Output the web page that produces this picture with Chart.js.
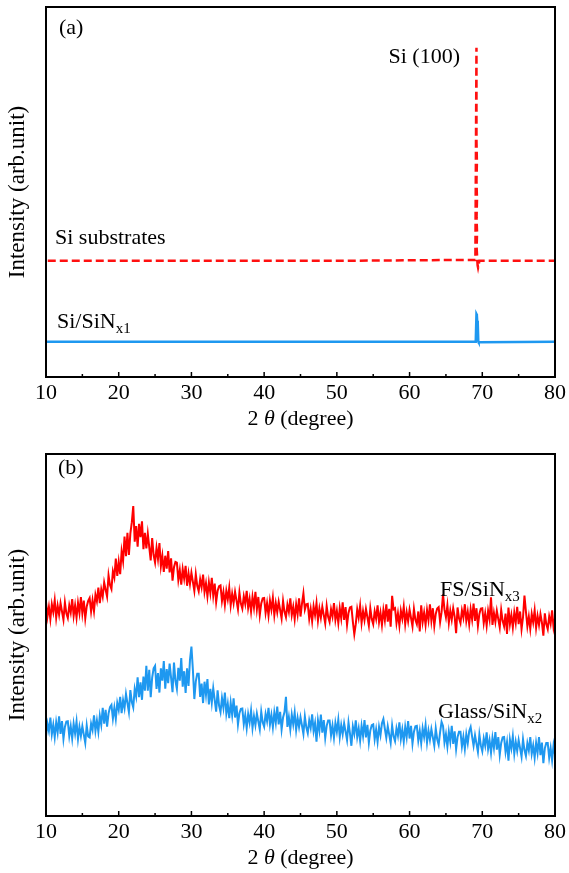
<!DOCTYPE html>
<html>
<head>
<meta charset="utf-8">
<script src="https://cdn.jsdelivr.net/npm/chart.js@4.4.0/dist/chart.umd.min.js"></script>
<style>
  html, body { margin: 0; padding: 0; background: #fff; }
  #wrap { position: relative; width: 569px; height: 873px; }
  canvas { position: absolute; left: 0; }
  #chartA { top: 0; }
  #chartB { top: 435px; }
</style>
</head>
<body>
<div id="wrap">
  <canvas id="chartA" width="569" height="435"></canvas>
  <canvas id="chartB" width="569" height="438"></canvas>
</div>
<script>
// x tick labels (2 theta, degree)
const xTicks = [10, 20, 30, 40, 50, 60, 70, 80];

// panel (a): Si substrates (red dashed) and Si/SiNx1 (blue)
const siSubX = [10, 30, 50, 65, 69.05, 69.2, 69.2, 69.26, 69.2, 69.27, 69.21, 69.28, 69.22, 69.3, 69.36, 69.42, 69.6, 80];
const siSubY = [31.4, 31.4, 31.4, 31.6, 31.6, 89, 64, 58, 53, 48, 43, 39, 35, 32, 30.2, 29.6, 31.4, 31.4];
const siNx1X = [10, 40, 69.1, 69.2, 69.25, 69.3, 69.35, 69.4, 69.45, 69.5, 80];
const siNx1Y = [9.5, 9.5, 9.5, 17.0, 16.8, 15.2, 14.8, 14.6, 9.6, 9.4, 9.5];

// panel (b): 2 theta from 10 to 80 every 0.2 degree
const thetaStart = 10;
const thetaStep = 0.2;
const fsSiNx3 = [
  59.2, 55.1, 57.8, 54.4, 58.5,  56.3, 59.6, 54.8, 58.1, 55.6,  58.8, 56.5, 54.2, 59.0, 56.0,  54.7, 58.2, 56.2, 59.9, 55.3,
  58.2, 54.8, 58.9, 56.1, 60.5,  56.0, 59.5, 54.6, 57.9, 59.4,  60.2, 56.5, 59.6, 56.6, 61.1,  59.3, 63.1, 58.8, 62.6, 60.6,
  64.5, 62.5, 60.6, 66.5, 63.8,  62.7, 67.6, 65.9, 71.1, 66.3,  70.2, 66.8, 73.1, 70.4, 77.2,  71.8, 78.2, 72.1, 78.0, 81.1,
  85.6, 75.8, 80.1, 74.4, 80.7,  77.0, 81.4, 73.7, 78.2, 73.9,  78.0, 74.3, 70.6, 76.8, 72.1,  70.0, 74.1, 71.0, 75.4, 69.0,
  71.9, 67.4, 71.9, 68.3, 73.2,  67.3, 71.2, 65.0, 68.7, 70.2,  70.0, 65.2, 67.9, 63.9, 68.2,  65.6, 69.1, 63.6, 67.0, 64.1,
  67.2, 64.7, 62.2, 66.8, 63.6,  62.1, 65.4, 63.2, 66.7, 61.9,  64.3, 60.7, 64.6, 61.6, 65.8,  60.9, 64.2, 59.1, 62.2, 63.5,
  63.7, 59.4, 61.9, 58.3, 62.2,  59.9, 63.1, 58.2, 61.4, 58.8,  61.9, 59.5, 57.1, 61.8, 58.7,  57.3, 60.7, 58.6, 62.2, 57.5,
  60.0, 56.5, 60.5, 57.6, 61.9,  57.1, 60.5, 55.5, 58.7, 60.1,  60.2, 56.1, 58.8, 55.4, 59.5,  57.0, 60.3, 55.5, 58.8, 56.3,
  59.2, 56.9, 54.6, 59.4, 56.4,  54.9, 58.4, 56.4, 60.1, 55.5,  57.8, 54.4, 58.5, 55.7, 60.1,  55.1, 58.6, 61.5, 57.0, 58.5,
  58.6, 54.5, 57.2, 53.8, 57.9,  55.5, 58.8, 54.0, 57.3, 54.8,  57.8, 55.5, 53.2, 58.0, 55.0,  53.6, 57.1, 55.1, 58.8, 54.2,
  56.7, 53.3, 57.4, 54.6, 59.0,  54.2, 57.7, 52.8, 56.1, 57.6,  57.8, 53.7, 50.2, 53.0, 57.1,  54.8, 58.1, 53.3, 56.6, 54.1,
  57.2, 54.9, 52.6, 57.4, 54.4,  53.0, 56.5, 54.5, 58.2, 53.6,  56.2, 52.8, 56.9, 54.1, 58.5,  53.7, 57.2, 52.3, 60.8, 57.1,
  57.4, 53.3, 56.0, 52.6, 56.7,  54.5, 57.8, 53.0, 56.3, 53.8,  57.0, 54.7, 52.4, 57.2, 54.2,  53.0, 56.5, 51.0, 58.2, 53.6,
  56.2, 52.8, 56.9, 54.1, 58.5,  53.9, 57.4, 52.5, 55.8, 57.3,  57.7, 53.6, 56.3, 61.2, 57.0,  54.9, 58.2, 53.4, 56.7, 54.2,
  57.4, 55.1, 50.5, 57.6, 54.6,  53.3, 56.8, 54.8, 58.5, 53.9,  56.4, 53.0, 57.1, 54.3, 58.7,  53.9, 57.4, 52.5, 55.8, 57.3,
  57.4, 53.3, 56.0, 52.6, 56.7,  54.3, 60.4, 52.8, 56.1, 53.6,  56.7, 54.4, 52.1, 56.9, 53.9,  52.4, 55.9, 50.3, 57.6, 53.0,
  55.5, 52.1, 56.2, 53.4, 57.8,  53.0, 56.5, 51.6, 54.9, 60.9,  56.5, 52.4, 55.1, 51.7, 55.8,  53.5, 56.8, 52.0, 55.3, 52.8,
  55.8, 53.5, 49.8, 56.0, 53.0,  51.6, 55.1, 53.1, 56.8, 52.2,  54.6
];
const glassSiNx2 = [
  22.0, 25.5, 23.5, 27.2, 22.6,  25.2, 21.8, 25.9, 23.1, 27.5,  22.7, 26.2, 21.3, 24.6, 26.1,  26.2, 22.1, 24.8, 21.4, 25.5,
  22.8, 26.1, 21.3, 24.6, 22.1,  24.8, 22.5, 20.2, 25.0, 22.0,  21.7, 25.5, 23.8, 27.8, 23.5,  26.4, 23.3, 27.7, 25.2, 29.9,
  25.5, 29.3, 24.7, 28.3, 30.1,  30.7, 26.9, 29.9, 26.8, 31.2,  29.3, 32.9, 28.4, 32.0, 29.8,  33.7, 31.2, 28.7, 34.8, 31.5,
  30.0, 35.1, 33.0, 38.3, 32.8,  36.9, 32.1, 38.5, 34.6, 41.5,  34.6, 40.4, 32.8, 38.2, 40.8,  41.5, 35.1, 39.5, 34.1, 40.8,
  37.4, 42.8, 35.2, 40.6, 36.7,  42.1, 38.2, 34.2, 42.4, 37.3,  35.1, 40.9, 37.4, 43.6, 35.7,  40.0, 34.0, 40.8, 35.9, 43.1,
  46.8, 40.4, 32.3, 37.2, 39.3,  39.3, 32.9, 36.6, 31.2, 37.1,  33.5, 37.8, 30.8, 35.1, 31.3,  35.3, 32.1, 28.8, 34.7, 30.5,
  28.7, 32.6, 29.9, 34.1, 28.3,  31.0, 27.0, 31.3, 27.9, 32.5,  27.2, 30.5, 25.3, 28.4, 29.6,  29.7, 25.4, 27.9, 24.3, 28.2,
  25.8, 29.1, 24.3, 27.6, 25.1,  28.3, 26.1, 23.9, 28.8, 25.9,  24.7, 28.2, 26.2, 29.9, 25.3,  27.9, 24.5, 28.6, 25.8, 30.2,
  25.3, 28.8, 23.9, 27.2, 28.7,  32.9, 24.6, 27.3, 23.9, 28.0,  25.3, 28.6, 23.8, 27.1, 24.6,  27.3, 25.0, 22.7, 27.5, 24.5,
  22.9, 26.4, 24.4, 28.1, 23.5,  25.7, 20.5, 26.4, 23.6, 28.0,  23.0, 26.5, 21.6, 24.9, 26.4,  26.4, 22.3, 25.0, 21.6, 25.7,
  23.3, 26.6, 21.8, 25.1, 22.6,  25.6, 23.3, 21.0, 25.8, 22.8,  19.4, 24.7, 22.7, 26.4, 21.8,  24.2, 20.8, 24.9, 22.1, 26.5,
  21.7, 25.2, 20.3, 23.6, 25.1,  25.3, 21.2, 23.9, 20.5, 24.6,  22.3, 25.6, 26.8, 24.1, 21.6,  24.8, 22.5, 20.2, 25.0, 22.0,
  20.7, 24.2, 22.2, 25.9, 21.3,  23.9, 20.5, 24.6, 21.8, 26.2,  21.4, 24.9, 20.0, 23.3, 24.8,  24.9, 20.8, 23.5, 20.1, 24.2,
  21.8, 25.1, 20.3, 23.6, 21.1,  24.0, 21.7, 19.4, 24.2, 21.2,  19.7, 23.2, 26.0, 24.9, 20.3,  22.6, 19.2, 23.3, 20.5, 24.9,
  19.9, 23.4, 18.5, 21.8, 23.3,  23.3, 19.2, 21.9, 18.5, 22.6,  20.1, 23.4, 24.6, 21.9, 19.4,  22.3, 20.0, 17.7, 22.5, 19.5,
  17.9, 21.4, 19.4, 23.1, 18.5,  20.9, 17.5, 21.6, 18.8, 23.2,  18.3, 21.8, 16.9, 20.2, 21.7,  21.8, 17.7, 20.4, 15.3, 21.1,
  18.7, 22.0, 17.2, 20.5, 18.0,  21.0, 18.7, 16.4, 21.2, 18.2,  16.6, 20.1, 18.1, 21.8, 17.2,  19.5, 16.1, 20.2, 17.4, 21.8,
  16.8, 20.3, 14.6, 18.7, 20.2,  20.2, 16.1, 18.8, 15.4, 19.5,  17.0
];

const SERIF = "'Liberation Serif', 'Times New Roman', serif";
const RED = "#ff1010";
const BLUE = "#1e98f0";

function toPoints(xs, ys) {
  return ys.map((y, i) => ({ x: xs[i], y: y }));
}
function gridPoints(ys) {
  return ys.map((y, i) => ({ x: thetaStart + i * thetaStep, y: y }));
}

// text with a subscript, e.g. SiN with x1
function drawSub(ctx, x, y, main, sub, size) {
  ctx.font = size + "px " + SERIF;
  ctx.textBaseline = "middle";
  ctx.textAlign = "left";
  ctx.fillText(main, x, y);
  const w = ctx.measureText(main).width;
  ctx.font = Math.round(size * 0.68) + "px " + SERIF;
  ctx.fillText(sub, x + w, y + size * 0.32);
}

function decorate(labels) {
  return {
    id: "decorate",
    afterDatasetsDraw(chart) {
      const { ctx, chartArea: a, scales: { x } } = chart;
      ctx.save();
      ctx.strokeStyle = "#000";
      ctx.lineWidth = 2;
      ctx.strokeRect(a.left, a.top, a.right - a.left, a.bottom - a.top);
      ctx.lineWidth = 1.5;
      for (let v = 10; v <= 80; v += 5) {
        const px = x.getPixelForValue(v);
        const len = v % 10 === 0 ? 5 : 3;
        ctx.beginPath();
        ctx.moveTo(px, a.bottom);
        ctx.lineTo(px, a.bottom - len);
        ctx.stroke();
      }
      ctx.fillStyle = "#000";
      // x title with italic theta
      const ty = a.bottom + 42;
      ctx.textBaseline = "middle";
      ctx.font = "22px " + SERIF;
      const p1 = "2 ", p3 = " (degree)";
      const w1 = ctx.measureText(p1).width, w3 = ctx.measureText(p3).width;
      ctx.font = "italic 22px " + SERIF;
      const w2 = ctx.measureText("\u03b8").width;
      const tx = (a.left + a.right) / 2 - (w1 + w2 + w3) / 2;
      ctx.textAlign = "left";
      ctx.font = "22px " + SERIF;
      ctx.fillText(p1, tx, ty);
      ctx.font = "italic 22px " + SERIF;
      ctx.fillText("\u03b8", tx + w1, ty);
      ctx.font = "22px " + SERIF;
      ctx.fillText(p3, tx + w1 + w2, ty);
      // y title
      ctx.save();
      ctx.translate(18, (a.top + a.bottom) / 2);
      ctx.rotate(-Math.PI / 2);
      ctx.textAlign = "center";
      ctx.font = "23px " + SERIF;
      ctx.fillText("Intensity (arb.unit)", 0, 0);
      ctx.restore();
      labels(ctx, a);
      ctx.restore();
    }
  };
}

function baseOptions(padTop, axisHeight) {
  return {
    responsive: false,
    animation: false,
    layout: { padding: { top: padTop, right: 14, left: 0, bottom: 0 } },
    plugins: { legend: { display: false }, tooltip: { enabled: false } },
    elements: { point: { radius: 0 }, line: { tension: 0 } },
    scales: {
      x: {
        type: "linear", min: 10, max: 80,
        afterFit: s => { s.height = axisHeight; },
        afterBuildTicks: s => { s.ticks = xTicks.map(v => ({ value: v })); },
        grid: { display: false, drawTicks: false },
        border: { display: false },
        ticks: { font: { family: SERIF, size: 22 }, color: "#000", padding: 3, maxRotation: 0, autoSkip: false }
      },
      y: {
        min: 0, max: 100,
        afterFit: s => { s.width = 46; },
        ticks: { display: false },
        grid: { display: false },
        border: { display: false }
      }
    }
  };
}

new Chart(document.getElementById("chartA"), {
  type: "line",
  data: {
    datasets: [
      { label: "Si substrates", data: toPoints(siSubX, siSubY), borderColor: RED, borderWidth: 2.5,
        borderDash: [8, 4], borderDashOffset: 10.24, fill: false },
      { label: "Si/SiNx1", data: toPoints(siNx1X, siNx1Y), borderColor: BLUE, borderWidth: 2.5, fill: false }
    ]
  },
  options: baseOptions(7, 58),
  plugins: [decorate((ctx, a) => {
    ctx.font = "22px " + SERIF;
    ctx.textBaseline = "middle";
    ctx.textAlign = "left";
    ctx.fillText("(a)", 59, 28);
    ctx.textAlign = "right";
    ctx.fillText("Si (100)", 460, 57);
    ctx.textAlign = "left";
    ctx.fillText("Si substrates", 55, 238);
    drawSub(ctx, 57, 322, "Si/SiN", "x1", 22);
  })]
});

new Chart(document.getElementById("chartB"), {
  type: "line",
  data: {
    datasets: [
      { label: "FS/SiNx3", data: gridPoints(fsSiNx3), borderColor: "#ff0000", borderWidth: 2, fill: false },
      { label: "Glass/SiNx2", data: gridPoints(glassSiNx2), borderColor: BLUE, borderWidth: 2, fill: false }
    ]
  },
  options: baseOptions(19, 57),
  plugins: [decorate((ctx, a) => {
    ctx.font = "22px " + SERIF;
    ctx.textBaseline = "middle";
    ctx.textAlign = "left";
    ctx.fillText("(b)", 58, 33);
    drawSub(ctx, 440, 155, "FS/SiN", "x3", 22);
    drawSub(ctx, 438, 277, "Glass/SiN", "x2", 22);
  })]
});
</script>
</body>
</html>
